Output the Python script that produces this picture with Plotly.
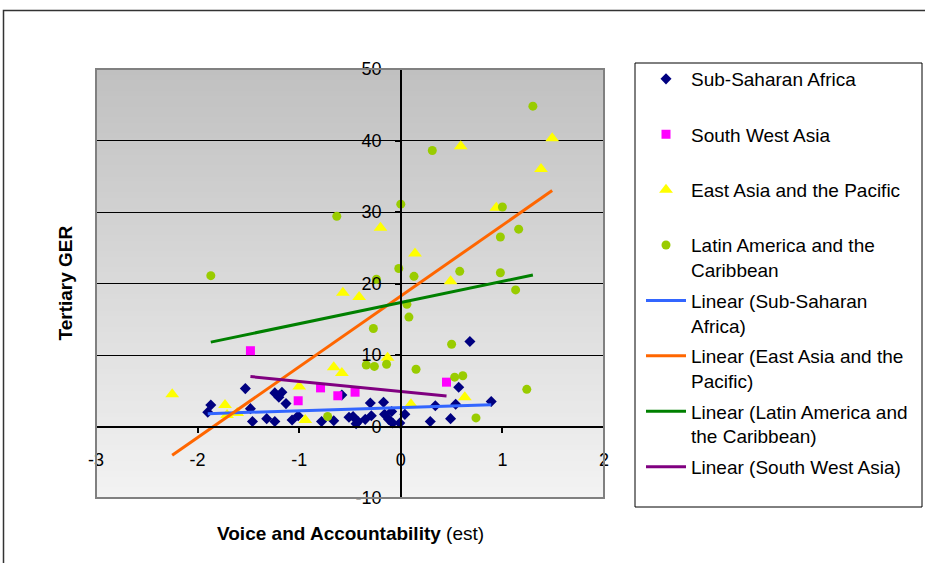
import numpy as np
import plotly.graph_objects as go

# ---------------- data ----------------
series_names = ["Sub-Saharan Africa", "South West Asia",
                "East Asia and the Pacific", "Latin America and the Caribbean"]

ssa_x = [-1.90, -1.87, -1.53, -1.48, -1.46, -1.32, -1.24, -1.24, -1.17, -1.20,
         -1.13, -1.07, -1.01, -0.78, -0.66, -0.58, -0.51, -0.47, -0.42, -0.35,
         -0.30, -0.29, -0.17, -0.16, -0.09, -0.12, -0.08, -0.01, 0.04, 0.29,
         0.34, 0.49, 0.54, 0.57, 0.68, 0.89, -0.44]
ssa_y = [2.0, 3.0, 5.3, 2.5, 0.7, 1.1, 0.7, 4.7, 4.8, 4.1,
         3.2, 0.9, 1.5, 0.7, 0.8, 4.4, 1.3, 1.4, 0.7, 1.0,
         3.3, 1.5, 3.4, 1.7, 2.1, 1.0, 0.5, 0.5, 1.7, 0.7,
         2.9, 1.1, 3.1, 5.5, 11.9, 3.5, 0.4]

swa_x = [-1.48, -1.01, -0.79, -0.62, -0.45, 0.45]
swa_y = [10.6, 3.6, 5.4, 4.3, 4.8, 6.2]

eap_x = [-2.25, -1.73, -1.71, -1.61, -1.00, -0.94, -0.66, -0.58, -0.57, -0.41,
         -0.20, 0.14, 0.49, 0.59, 0.94, 1.38, 1.49, -0.13, 0.10, 0.63]
eap_y = [4.5, 3.0, 1.6, 1.9, 5.6, 0.9, 8.3, 7.5, 18.7, 18.1,
         27.8, 24.2, 20.3, 39.2, 30.6, 36.0, 40.3, 9.6, 3.1, 4.1]

lac_x = [-1.87, -0.63, 0.00, 0.31, 1.30, 1.00, 0.98, 1.16, -0.02, 0.13,
         0.58, -0.24, 0.06, 0.08, -0.27, 0.98, 1.13, 0.50, 0.15, 0.53,
         0.61, 1.24, 0.74, -0.34, -0.26, -0.14, -0.72]
lac_y = [21.1, 29.4, 31.1, 38.6, 44.8, 30.7, 26.5, 27.6, 22.1, 21.0,
         21.7, 20.6, 17.1, 15.3, 13.7, 21.5, 19.1, 11.5, 8.0, 6.9,
         7.1, 5.2, 1.2, 8.6, 8.4, 8.7, 1.4]

x_ticks = [-3, -2, -1, 0, 1, 2]
y_ticks = [-10, 0, 10, 20, 30, 40, 50]

# ---------------- figure ----------------
fig = go.Figure()

scatter_specs = [
    (ssa_x, ssa_y, "Sub-Saharan Africa<br>\u00a0", "diamond", "#000080", 8.5),
    (swa_x, swa_y, "South West Asia<br>\u00a0", "square", "#ff00ff", 9),
    (eap_x, eap_y, "East Asia and the Pacific<br>\u00a0", "triangle-up", "#ffff00", 12),
    (lac_x, lac_y, "Latin America and the<br>Caribbean", "circle", "#99cc00", 9),
]
for i, (xs, ys, name, sym, col, sz) in enumerate(scatter_specs):
    fig.add_trace(go.Scatter(x=xs, y=ys, mode="markers", name=name,
                             legendgroup=f"g{i}",
                             marker=dict(symbol=sym, color=col, size=sz,
                                         line=dict(width=0))))

trend_specs = [
    (ssa_x, ssa_y, "Linear (Sub-Saharan<br>Africa)", "#3366ff"),
    (eap_x, eap_y, "Linear (East Asia and the<br>Pacific)", "#ff6600"),
    (lac_x, lac_y, "Linear (Latin America and<br>the Caribbean)", "#008000"),
    (swa_x, swa_y, "Linear (South West Asia)<br>\u00a0", "#800080"),
]
for j, (xs, ys, name, col) in enumerate(trend_specs):
    xa = np.array(xs)
    ya = np.array(ys)
    slope, icpt = np.polyfit(xa, ya, 1)
    tx = np.array([xa.min(), xa.max()])
    fig.add_trace(go.Scatter(x=tx, y=slope * tx + icpt, mode="lines", name=name,
                             legendgroup=f"t{j}",
                             line=dict(color=col, width=3)))

# plot-area gradient (top darker grey -> bottom light grey)
N = 80
shapes = []
for k in range(N):
    f = (k + 0.5) / N
    v = int(round(243 - (243 - 192) * f))
    shapes.append(dict(type="rect", xref="paper", yref="paper",
                       x0=0, x1=1, y0=k / N, y1=min(1.0, (k + 1.6) / N),
                       fillcolor=f"rgb({v},{v},{v})", line=dict(width=0),
                       layer="below"))
# plot area border
shapes.append(dict(type="rect", xref="paper", yref="paper", x0=0, x1=1, y0=0, y1=1,
                   line=dict(color="#808080", width=2), layer="above"))
# outer chart border
shapes.append(dict(type="rect", xref="paper", yref="paper",
                   x0=(3.5 - 96) / 508, x1=(940 - 96) / 508,
                   y0=(498 - 580) / 429, y1=(498 - 10.5) / 429,
                   line=dict(color="#333333", width=1.5), layer="below"))
# legend box
shapes.append(dict(type="rect", xref="paper", yref="paper",
                   x0=(635 - 96) / 508, x1=(922 - 96) / 508,
                   y0=(498 - 507) / 429, y1=(498 - 63) / 429,
                   line=dict(color="#000000", width=1), layer="below"))

fig.update_layout(
    width=925, height=563,
    margin=dict(l=96, r=321, t=69, b=65),
    paper_bgcolor="white", plot_bgcolor="rgba(0,0,0,0)",
    font=dict(family="Liberation Sans, Arial, sans-serif", size=18, color="black"),
    shapes=shapes,
    showlegend=True,
    legend=dict(x=(641 - 96) / 508, y=(498 - 60) / 429, xanchor="left", yanchor="top",
                bgcolor="rgba(0,0,0,0)", borderwidth=0,
                font=dict(size=19, color="black"),
                traceorder="grouped", tracegroupgap=3, valign="top", itemwidth=40,
                maxheight=540),
    xaxis=dict(range=[-3, 2], anchor="free", position=1 / 6,
               tickvals=x_ticks, ticktext=[str(t) for t in x_ticks],
               showline=True, linecolor="black", linewidth=1.5,
               ticks="outside", ticklen=6, tickwidth=1.5, tickcolor="black",
               showgrid=False, zeroline=False, ticklabelstandoff=11,
               tickfont=dict(size=18)),
    yaxis=dict(range=[-10, 50], anchor="free", position=0.6,
               tickvals=y_ticks, ticktext=[str(t) for t in y_ticks],
               showline=True, linecolor="black", linewidth=1.5,
               ticks="outside", ticklen=5, tickwidth=1.5, tickcolor="black",
               showgrid=True, gridcolor="black", gridwidth=1.3,
               zeroline=False, ticklabelstandoff=10,
               tickfont=dict(size=18)),
    annotations=[
        dict(text="<b>Tertiary GER</b>", xref="paper", yref="paper",
             x=(65 - 96) / 508, y=0.5, textangle=-90, showarrow=False,
             xanchor="center", yanchor="middle", font=dict(size=19)),
        dict(text="<b>Voice and Accountability</b> (est)", xref="paper", yref="paper",
             x=0.5, y=(498 - 533) / 429, showarrow=False,
             xanchor="center", yanchor="middle", font=dict(size=19)),
    ],
)

fig.write_html("out.html", config={"displayModeBar": False},
               post_script="document.body.style.margin='0';document.body.style.overflow='hidden';")
